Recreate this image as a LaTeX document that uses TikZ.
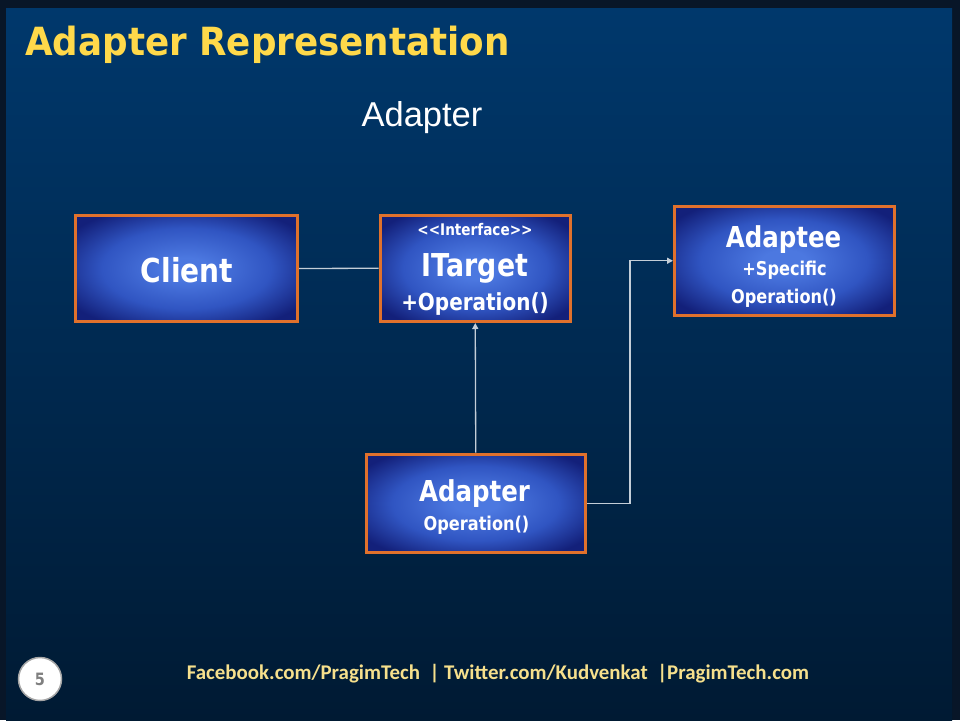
\documentclass[tikz,border=0pt]{standalone}
\usepackage{fontspec}
\usetikzlibrary{arrows.meta}
\setmainfont{DejaVu Sans}
\newfontfamily\titlefont[FakeStretch=0.92]{DejaVu Sans}
\newfontfamily\boxfont[FakeStretch=0.85]{DejaVu Sans}
\newfontfamily\subfont{Liberation Sans}
\newfontfamily\footfont{Carlito}
\definecolor{frame}{HTML}{081628}
\definecolor{bgtop}{HTML}{00386C}
\definecolor{bgbot}{HTML}{001A33}
\definecolor{boxin}{HTML}{4C78E0}
\definecolor{boxmid}{HTML}{3055C2}
\definecolor{boxout}{HTML}{13207A}
\definecolor{boxedge}{HTML}{E0712C}
\definecolor{titlecol}{HTML}{FFD94A}
\definecolor{footcol}{HTML}{F6E08C}
\definecolor{linecol}{HTML}{C4CED8}
\pgfdeclareradialshading{boxshade}{\pgfpoint{0bp}{0bp}}{color(0bp)=(boxin); color(5bp)=(boxin); color(19bp)=(boxmid); color(31bp)=(boxout); color(40bp)=(boxout)}
\tikzset{
  umlbox/.style={draw=boxedge, line width=3pt, shading=boxshade, inner sep=0pt},
  boxtext/.style={text=white, inner sep=0pt, anchor=base},
  conn/.style={draw=linecol, line width=1.3pt},
  arr/.style={conn, -{Triangle[length=6pt,width=6pt]}}
}
\begin{document}
\begin{tikzpicture}[x=1pt, y=-1pt]
\useasboundingbox (0,0) rectangle (960,720);
% background
\fill[frame] (0,0) rectangle (960,720);
\shade[top color=bgtop, bottom color=bgbot] (6,8) rectangle (952,720);
% title
\node[anchor=base west, inner sep=0pt, text=titlecol] (title) at (25,55)
  {\titlefont\bfseries\fontsize{38.8}{44}\selectfont Adapter Representation};
\node[anchor=base, inner sep=0pt, text=white] (subtitle) at (422,126)
  {\subfont\fontsize{34.5}{40}\selectfont Adapter};
% boxes
\node[umlbox, minimum width=222.5pt, minimum height=106.5pt] (client) at (186.25,268.5) {};
\node[umlbox, minimum width=190.5pt, minimum height=106.5pt] (itarget) at (475.25,268.25) {};
\node[umlbox, minimum width=219.5pt, minimum height=109.5pt] (adaptee) at (784.25,260.75) {};
\node[umlbox, minimum width=219.5pt, minimum height=98.5pt] (adapter) at (475.75,503.25) {};
% box texts
\node[boxtext] (clientname) at (187,282) {\boxfont\bfseries\fontsize{33}{38}\selectfont Client};
\node[boxtext] (itstereo) at (475,235) {\boxfont\bfseries\fontsize{16}{18}\selectfont <{}<Interface>{}>};
\node[boxtext] (itname) at (475,276) {\boxfont\bfseries\fontsize{31.5}{36}\selectfont ITarget};
\node[boxtext] (itop) at (475,310) {\boxfont\bfseries\fontsize{23.5}{28}\selectfont +Operation()};
\node[boxtext] (adapteename) at (783.5,247) {\boxfont\bfseries\fontsize{28.8}{34}\selectfont Adaptee};
\node[boxtext] (adapteeop1) at (784.5,275) {\boxfont\bfseries\fontsize{19}{22}\selectfont +Specific};
\node[boxtext] (adapteeop2) at (784,303.5) {\boxfont\bfseries\fontsize{19}{22}\selectfont Operation()};
\node[boxtext] (adaptername) at (474.5,501.7) {\boxfont\bfseries\fontsize{28.8}{34}\selectfont Adapter};
\node[boxtext] (adapterop) at (476.5,530.7) {\boxfont\bfseries\fontsize{19}{22}\selectfont Operation()};
% connectors
\draw[conn] (client.east) -- (itarget.west);
\draw[arr] (adapter.north) -- (itarget.south);
\coordinate (bend) at (630,503.25);
\draw[arr] (adapter.east) -- (bend) |- (adaptee.west);
% footer
\node[circle, fill=white, draw=gray!70, line width=1.5pt, minimum size=43pt, inner sep=0pt,
  text=gray, font=\boxfont\bfseries\fontsize{17}{20}\selectfont] (pagenum) at (40,679) {5};
\node[anchor=base, inner sep=0pt, text=footcol] (footer) at (498,679.5)
  {\footfont\bfseries\fontsize{20.9}{24}\selectfont Facebook.com/PragimTech\ \ | Twitter.com/Kudvenkat\ \ |PragimTech.com};
\end{tikzpicture}
\end{document}
